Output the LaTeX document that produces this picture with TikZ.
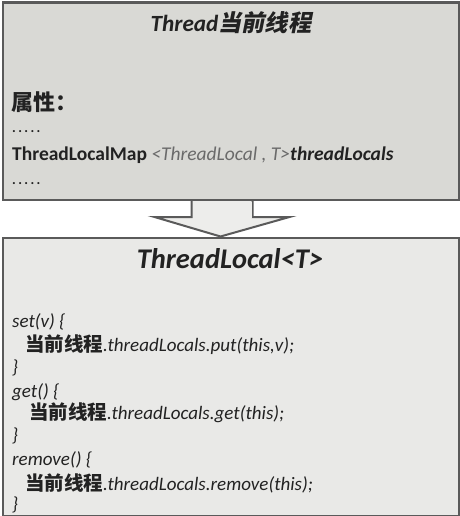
\documentclass[tikz,border=0pt]{standalone}
\usepackage{fontspec}
\setmainfont{Carlito}
\newfontfamily\cjk{Noto Sans CJK SC}
\newfontfamily\cjksl{Noto Sans CJK SC}[FakeSlant=0.2]
\usetikzlibrary{calc}
\definecolor{topfill}{HTML}{D9D9D5}
\definecolor{botfill}{HTML}{E9E9E7}
\definecolor{arrfill}{HTML}{EDEDEB}
\definecolor{edge}{HTML}{5A5A5A}
\definecolor{ink}{HTML}{222222}
\definecolor{soft}{HTML}{6A6A6A}
\newcommand{\fivedots}{.\hspace{2.4pt}.\hspace{2.4pt}.\hspace{2.4pt}.\hspace{2.4pt}.}
\tikzset{
  box/.style={draw=edge, line width=2.5pt, inner sep=0pt, anchor=north west},
  txt/.style={inner sep=0pt, anchor=west, text=ink},
  code/.style={txt, font=\fontsize{19}{21}\selectfont\itshape},
  cn/.style={font=\cjk\bfseries}
}
\newcommand{\cur}{{\cjk\bfseries\fontsize{19.5}{21}\selectfont 当前线程}}
\begin{document}
\begin{tikzpicture}[x=1pt,y=1pt]
\useasboundingbox (0,0) rectangle (459,-516);
\node[box, fill=topfill, minimum width=456pt, minimum height=197pt] (thread) at (1.5,-1.5) {};
\node[box, fill=botfill, minimum width=456pt, minimum height=278pt] (tl) at (1.5,-236.5) {};
% block arrow
\coordinate (a0) at ($(thread.south west)+(190,0)$);
\coordinate (tip) at ($(tl.north west)+(219,0)$);
\filldraw[fill=arrfill, draw=edge, line width=2pt, line join=miter]
  (a0) -- ++(0,-16) -- ++(-37,0) -- (tip) -- ($(a0)+(98,-16)$) -- ($(a0)+(61,-16)$) -- ($(a0)+(61,0)$);
\fill[arrfill] ($(a0)+(1,-1.3)$) rectangle ($(a0)+(60,-17)$);
% top box texts
\node[inner sep=0pt, text=ink, font=\fontsize{23.2}{26}\selectfont\bfseries\itshape] (title1) at (231,-23) {Thread{\cjksl\bfseries 当前线程}};
\node[txt, font=\fontsize{22}{24}\selectfont\cjk\bfseries] (attr) at (11,-102) {属性：};
\node[txt, font=\fontsize{14}{15}\selectfont\bfseries] (dots1) at (12,-132) {\fivedots};
\node[txt, font=\fontsize{19.5}{21}\selectfont] (map) at (12,-155) {\textbf{ThreadLocalMap} \textcolor{soft}{\itshape <ThreadLocal , T>}\textbf{\itshape threadLocals}};
\node[txt, font=\fontsize{14}{15}\selectfont\bfseries] (dots2) at (12,-184) {\fivedots};
% bottom box texts
\node[inner sep=0pt, text=ink, font=\fontsize{28.5}{32}\selectfont\bfseries\itshape] (title2) at (230,-259) {ThreadLocal<T>};
\node[code] (l1) at (12,-322) {set(v) \{};
\node[code] (l2) at (25,-345) {\cur.threadLocals.put(this,v);};
\node[code] (l3) at (12,-368) {\}};
\node[code] (l4) at (12,-392) {get() \{};
\node[code] (l5) at (29,-413) {\cur.threadLocals.get(this);};
\node[code] (l6) at (12,-436) {\}};
\node[code] (l7) at (12,-460) {remove() \{};
\node[code] (l8) at (25,-483) {\cur.threadLocals.remove(this);};
\node[code] (l9) at (12,-505) {\}};
\end{tikzpicture}
\end{document}
